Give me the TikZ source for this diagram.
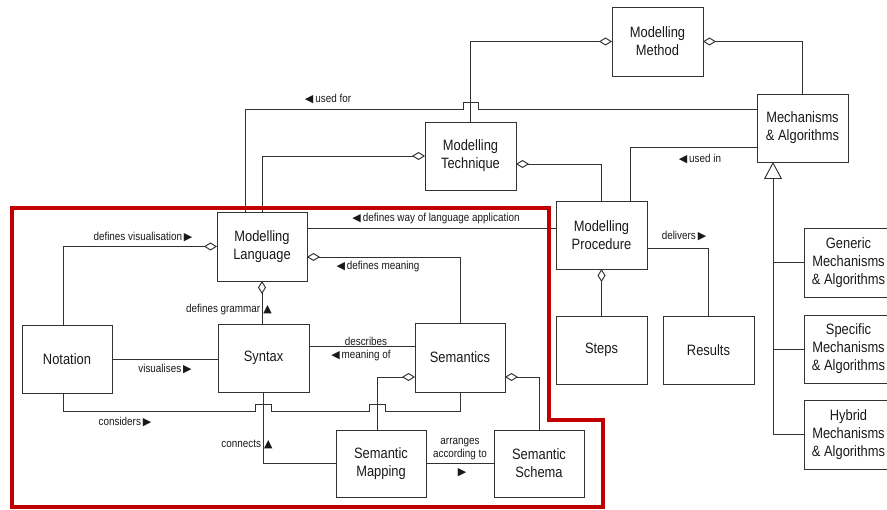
\documentclass[tikz,border=0pt]{standalone}
\usepackage{fontspec}
\setmainfont{Liberation Sans}[FakeStretch=0.86]
\newfontfamily\symfont{DejaVu Sans}
\usetikzlibrary{arrows.meta,calc}
\definecolor{linegray}{RGB}{50,50,50}
\definecolor{textblack}{RGB}{25,25,25}
\definecolor{framered}{RGB}{192,0,0}
% direction markers used inside the association labels
\newcommand\triL{{\symfont\fontsize{11}{11}\selectfont ◀}}
\newcommand\triR{{\symfont\fontsize{11}{11}\selectfont ▶}}
\newcommand\triU{{\symfont\fontsize{11}{11}\selectfont ▲}}
\tikzset{
  box/.style={draw=linegray, line width=0.95pt, inner sep=0pt, outer sep=0pt,
    align=center, text=textblack, font=\fontsize{15}{18}\selectfont, anchor=north west},
  link/.style={draw=linegray, line width=0.95pt},
  agg/.style={{Diamond[open,length=13pt,width=8pt,line width=0.95pt]}-},
  gen/.style={{Triangle[open,length=17pt,width=18pt,line width=0.95pt]}-},
  lbl/.style={font=\fontsize{11.5}{13}\selectfont, text=textblack, inner sep=0pt, align=center},
  frame/.style={draw=framered, line width=3.6pt, line join=miter}
}
% \umlbox{name}{x1}{y1}{x2}{y2}{text}: box given by its corners
\newcommand\umlbox[6]{%
  \node[box, minimum width={(#4-#2)*1pt}, minimum height={(#5-#3)*1pt}] (#1) at (#2,#3) {#6};}
\begin{document}
\begin{tikzpicture}[x=1pt,y=-1pt]
\useasboundingbox (0,0) rectangle (887,510);

% ---------- classes ----------
\umlbox{MM}{612}{7}{703}{76}{Modelling\\Method}
\umlbox{MA}{757}{94}{848}{162}{Mechanisms\\\& Algorithms}
\umlbox{MT}{425}{122}{516}{190}{Modelling\\Technique}
\umlbox{ML}{217}{212}{307}{281}{Modelling\\Language}
\umlbox{NT}{22}{325}{112}{393}{Notation}
\umlbox{SY}{218}{324}{309}{392}{Syntax}
\umlbox{SE}{415}{323}{505}{392}{Semantics}
\umlbox{SM}{336}{430}{426}{497}{Semantic\\Mapping}
\umlbox{SS}{494}{430}{584}{497}{Semantic\\Schema}
\umlbox{MP}{556}{201}{647}{269}{Modelling\\Procedure}
\umlbox{ST}{556}{316}{647}{384}{Steps}
\umlbox{RS}{663}{316}{754}{384}{Results}
\umlbox{GE}{804}{228}{893}{297}{Generic\\Mechanisms\\\& Algorithms}
\umlbox{SP}{804}{315}{893}{383}{Specific\\Mechanisms\\\& Algorithms}
\umlbox{HY}{804}{400}{893}{469}{Hybrid\\Mechanisms\\\& Algorithms}

% ---------- Modelling Method composition ----------
\draw[link,agg] (MM.west) -| (MT.north);
\draw[link,agg] (MM.east) -| (MA.north);

% ---------- used for (hops over the technique line) ----------
\coordinate (uf0) at ($(MA.north west)+(0,15)$);
\coordinate (uf1) at ($(ML.north)+(-17,0)$);
\coordinate (ufh) at (uf0 -| MT.north);
\draw[link] (uf0) -- ($(ufh)+(7.5,0)$) -- ++(0,-7) -- ++(-15,0) -- ++(0,7)
  -- (uf1 |- uf0) -- (uf1);
\node[lbl] (lusedfor) at (328,99) {\triL\,used for};

% ---------- Modelling Technique ----------
\draw[link,agg] (MT.west) -| (ML.north);
\coordinate (mt1) at ($(MT.east)+(0,8)$);
\draw[link,agg] (mt1) -| (MP.north);

% ---------- used in ----------
\coordinate (ui0) at ($(MA.west)+(0,19)$);
\coordinate (ui1) at ($(MP.north)+(28.5,0)$);
\draw[link] (ui0) -| (ui1);
\node[lbl] (lusedin) at (700,159) {\triL\,used in};

% ---------- specialisations of Mechanisms & Algorithms ----------
\coordinate (g0) at ($(MA.south west)+(16,0)$);
\draw[link,gen] (g0) -- (g0 |- HY.west) -- (HY.west);
\draw[link] (g0 |- GE.west) -- (GE.west);
\draw[link] (g0 |- SP.west) -- (SP.west);

% ---------- language application ----------
\coordinate (la0) at ($(ML.north east)+(0,16)$);
\draw[link] (la0) -- (la0 -| MP.west);
\node[lbl] (lapp) at (436,219) {\triL\,defines way of language application};

% ---------- defines meaning ----------
\coordinate (dm0) at ($(ML.east)+(0,10.5)$);
\draw[link,agg] (dm0) -| (SE.north);
\node[lbl] (lmeaning) at (378,267) {\triL\,defines meaning};

% ---------- defines visualisation ----------
\coordinate (nx) at ($(NT.north)+(-4,0)$);
\draw[link,agg] (ML.west) -| (nx);
\node[lbl] (lvis) at (143,237) {defines visualisation\,\triR};

% ---------- defines grammar ----------
\draw[link,agg] (ML.south) -- (ML.south |- SY.north);
\node[lbl] (lgram) at (229,310) {defines grammar\;\triU};

% ---------- visualises ----------
\draw[link] (NT.east) -- (NT.east -| SY.west);
\node[lbl] (lvisu) at (165,369) {visualises\,\triR};

% ---------- describes meaning of ----------
\coordinate (dm1) at ($(SY.east)+(0,-12)$);
\draw[link] (dm1) -- (dm1 -| SE.west);
\node[lbl] (ldesc) at (366,341) {describes};
\node[lbl] (lmof) at (361,356) {\triL\,meaning of};

% ---------- considers (hops over two vertical lines) ----------
\coordinate (c0) at ($(NT.south)+(-4,0)$);
\coordinate (c1) at ($(c0)+(0,18)$);
\coordinate (sm0) at ($(SM.north)+(-4,0)$);
\coordinate (ch1) at (c1 -| SY.south);
\coordinate (ch2) at (c1 -| sm0);
\draw[link] (c0) -- (c1) -- ($(ch1)+(-8,0)$) -- ++(0,-7) -- ++(16,0) -- ++(0,7)
  -- ($(ch2)+(-8,0)$) -- ++(0,-7) -- ++(16,0) -- ++(0,7) -| (SE.south);
\node[lbl] (lcons) at (125,422) {considers\,\triR};

% ---------- connects ----------
\draw[link] (SY.south) |- (SM.west);
\node[lbl] (lconn) at (247,444) {connects\;\triU};

% ---------- Semantics composition ----------
\coordinate (se1) at ($(SE.west)+(0,19.5)$);
\draw[link,agg] (se1) -| (sm0);
\coordinate (se2) at ($(SE.east)+(0,19.5)$);
\draw[link,agg] (se2) -| (SS.north);

% ---------- arranges according to ----------
\draw[link] (SM.east) -- (SS.west);
\node[lbl] (larr) at (460,449) {arranges\\according to};
\node[lbl] (larrt) at (462,473) {\triR};

% ---------- Modelling Procedure ----------
\draw[link,agg] (MP.south) -- (ST.north);
\coordinate (dv) at ($(MP.east)+(0,13)$);
\draw[link] (dv) -| (RS.north);
\node[lbl] (ldeliv) at (684,236) {delivers\,\triR};

% ---------- highlighted language part ----------
\draw[frame] (12,208) -- (549,208) -- (549,420) -- (603,420) -- (603,507) -- (12,507) -- cycle;
\end{tikzpicture}
\end{document}
